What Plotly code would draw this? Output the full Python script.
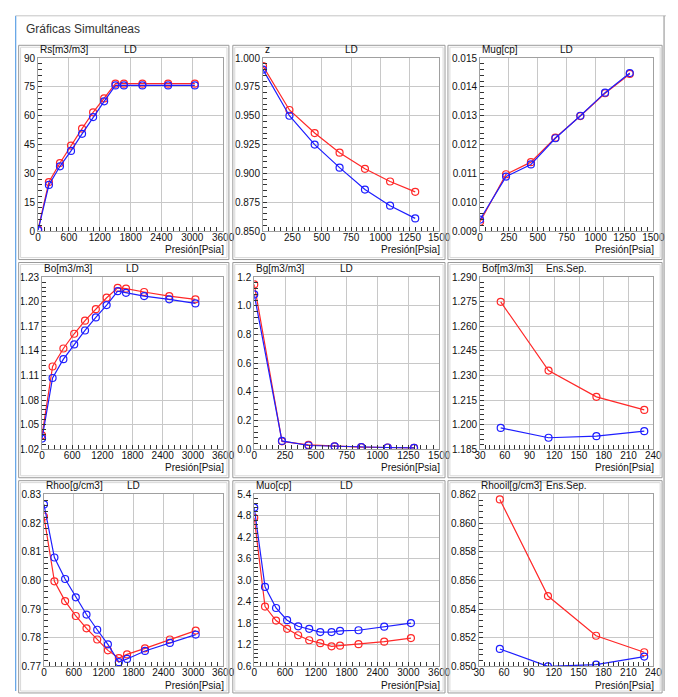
import plotly.graph_objects as go

W, H = 678, 697

# ---------------- data ----------------
p_oil = [0, 210, 425, 640, 855, 1070, 1285, 1505, 1670, 2030, 2530, 3050]
p_gas = [0, 225, 440, 652, 868, 1082, 1296]
p_sep = [55, 113, 171, 229]

rs_red = [1.0, 25.5, 35.4, 44.5, 53.3, 61.8, 69.0, 76.7, 76.7, 76.7, 76.7, 76.7]
rs_blue = [0.5, 24.0, 33.7, 41.7, 50.6, 59.3, 67.5, 75.8, 75.8, 75.8, 75.8, 75.8]

z_red = [0.993, 0.955, 0.935, 0.918, 0.904, 0.893, 0.884]
z_blue = [0.990, 0.950, 0.925, 0.905, 0.886, 0.872, 0.861]

mug_red = [0.00932, 0.01097, 0.01139, 0.01224, 0.01299, 0.01378, 0.01445]
mug_blue = [0.00940, 0.01089, 0.01131, 0.01222, 0.01300, 0.01380, 0.01448]

bo_red = [1.037, 1.121, 1.143, 1.161, 1.177, 1.191, 1.205, 1.217, 1.216, 1.212, 1.207, 1.203]
bo_blue = [1.033, 1.107, 1.130, 1.148, 1.165, 1.181, 1.196, 1.213, 1.211, 1.207, 1.203, 1.198]

bg_red = [1.15, 0.055, 0.030, 0.020, 0.015, 0.012, 0.010]
bg_blue = [1.08, 0.058, 0.026, 0.020, 0.015, 0.012, 0.010]

bof_red = [1.275, 1.233, 1.217, 1.209]
bof_blue = [1.198, 1.192, 1.193, 1.196]

rhoo_red = [0.8223, 0.7997, 0.7928, 0.7876, 0.7833, 0.7794, 0.7756, 0.7729, 0.7742, 0.7763, 0.7794, 0.7825]
rhoo_blue = [0.8265, 0.8080, 0.8005, 0.7941, 0.7881, 0.7828, 0.7777, 0.7715, 0.7726, 0.7754, 0.7782, 0.7811]

muo_red = [4.75, 2.27, 1.88, 1.65, 1.47, 1.33, 1.25, 1.16, 1.18, 1.22, 1.29, 1.39]
muo_blue = [5.03, 2.82, 2.23, 1.89, 1.72, 1.65, 1.56, 1.56, 1.59, 1.61, 1.71, 1.81]

rhooil_red = [0.86165, 0.85491, 0.85214, 0.85099]
rhooil_blue = [0.85122, 0.85000, 0.85012, 0.85069]

y_titles = ["Rs[m3/m3]", "z", "Mug[cp]", "Bo[m3/m3]", "Bg[m3/m3]", "Bof[m3/m3]",
            "Rhoo[g/cm3]", "Muo[cp]", "Rhooil[g/cm3]"]
panel_tags = ["LD", "LD", "LD", "LD", "LD", "Ens.Sep.", "LD", "LD", "Ens.Sep."]
x_title = "Presión[Psia]"
window_title = "Gráficas Simultáneas"

series = [
    (p_oil, rs_red, rs_blue), (p_gas, z_red, z_blue), (p_gas, mug_red, mug_blue),
    (p_oil, bo_red, bo_blue), (p_gas, bg_red, bg_blue), (p_sep, bof_red, bof_blue),
    (p_oil, rhoo_red, rhoo_blue), (p_oil, muo_red, muo_blue), (p_sep, rhooil_red, rhooil_blue),
]

OILX = ([0, 3600], 600)
GASX = ([0, 1500], 250)
SEPX = ([30, 240], 30)
axes_cfg = [
    (OILX, [0, 90], 15, "d"),
    (GASX, [0.85, 1.0], 0.025, ".3f"),
    (GASX, [0.009, 0.015], 0.001, ".3f"),
    (OILX, [1.02, 1.23], 0.03, ".2f"),
    (GASX, [0.0, 1.2], 0.2, ".1f"),
    (SEPX, [1.185, 1.29], 0.015, ".3f"),
    (OILX, [0.77, 0.83], 0.01, ".2f"),
    (OILX, [0.6, 5.4], 0.6, ".1f"),
    (SEPX, [0.85, 0.862], 0.002, ".3f"),
]

# plot-area pixel boxes (left, right, top, bottom)
boxes = [
    (33, 223, 53, 229), (264, 445, 53, 229), (487, 665, 53, 229),
    (37, 223, 276, 451), (255, 445, 276, 451), (487, 665, 276, 451),
    (39, 223, 497, 672), (255, 445, 497, 672), (486, 665, 497, 672),
]
frames_x = [(13, 229), (233, 451), (454, 674)]
frames_y = [(40, 258), (261, 480), (483, 699)]


def px(x):
    return x / W


def py(y):
    return 1 - y / H


RED = "rgb(255,40,40)"
BLUE = "rgb(30,30,255)"
FONT = "Liberation Sans, Arial, sans-serif"
TXT = "#111111"

fig = go.Figure()
layout = dict(
    width=W, height=H, margin=dict(l=0, r=0, t=0, b=0),
    paper_bgcolor="white", plot_bgcolor="white", showlegend=False,
    font=dict(family=FONT, size=10, color=TXT),
)
annotations = []
shapes = []

shapes.append(dict(type="line", xref="paper", yref="paper", x0=px(10), x1=px(10),
                   y0=py(10), y1=py(697), line=dict(color="#3d8ee0", width=1)))
shapes.append(dict(type="line", xref="paper", yref="paper", x0=px(10), x1=px(678),
                   y0=py(10), y1=py(10), line=dict(color="#c4c4c4", width=1)))
shapes.append(dict(type="line", xref="paper", yref="paper", x0=px(676), x1=px(676),
                   y0=py(10), y1=py(697), line=dict(color="#8a8a8a", width=1)))
annotations.append(dict(text=window_title, xref="paper", yref="paper", x=px(18), y=py(23),
                        xanchor="left", yanchor="middle", showarrow=False,
                        font=dict(family=FONT, size=12, color="#333")))

for fx0, fx1 in frames_x:
    for fy0, fy1 in frames_y:
        shapes.append(dict(type="rect", xref="paper", yref="paper", x0=px(fx0), x1=px(fx1),
                           y0=py(fy0), y1=py(fy1), line=dict(color="#9a9a9a", width=1)))
        shapes.append(dict(type="rect", xref="paper", yref="paper", x0=px(fx0 + 2), x1=px(fx1 - 2),
                           y0=py(fy0 + 2), y1=py(fy1 - 2), line=dict(color="#d8d8d8", width=1)))

for i, ((xv, red, blue), ((xr, xd), yr, yd, yf), (l, r, t, b)) in enumerate(zip(series, axes_cfg, boxes)):
    n = i + 1
    xa = "x" if n == 1 else f"x{n}"
    ya = "y" if n == 1 else f"y{n}"
    for vals, col in ((red, RED), (blue, BLUE)):
        fig.add_trace(go.Scatter(
            x=xv, y=vals, xaxis=xa, yaxis=ya, mode="lines+markers",
            line=dict(color=col, width=1.2),
            marker=dict(symbol="circle-open", size=7, color=col, line=dict(width=1.2, color=col)),
        ))
    common = dict(showgrid=True, gridcolor="#c8c8c8", gridwidth=1, zeroline=False,
                  showline=True, linecolor="#a0a0a0", linewidth=1, mirror=True,
                  ticks="inside", ticklen=4, tickcolor="#333", tickwidth=1,
                  tickfont=dict(family=FONT, size=10, color=TXT))
    layout["xaxis" if n == 1 else f"xaxis{n}"] = dict(
        common, domain=[px(l), px(r)], anchor=ya, range=xr, dtick=xd, tick0=xr[0],
        ticklabelstandoff=-3,
        minor=dict(ticks="inside", ticklen=4, tickcolor="#333", dtick=xd / 5, showgrid=False),
    )
    layout["yaxis" if n == 1 else f"yaxis{n}"] = dict(
        common, domain=[py(b), py(t)], anchor=xa, range=yr, dtick=yd, tick0=yr[0],
        tickformat=yf, ticklabelstandoff=0,
        minor=dict(ticks="inside", ticklen=4, tickcolor="#333", dtick=yd / 5, showgrid=False),
    )
    annotations.append(dict(text=y_titles[i], xref="paper", yref="paper", x=px(l), y=py(t - 1),
                            xanchor="left", yanchor="bottom", showarrow=False,
                            font=dict(family=FONT, size=10, color=TXT)))
    annotations.append(dict(text=panel_tags[i], xref="paper", yref="paper", x=px((l + r) / 2),
                            y=py(t - 1), xanchor="center", yanchor="bottom", showarrow=False,
                            font=dict(family=FONT, size=10, color=TXT)))
    annotations.append(dict(text=x_title, xref="paper", yref="paper", x=px(r + 3), y=py(b + 19),
                            xanchor="right", yanchor="middle", showarrow=False,
                            font=dict(family=FONT, size=10, color=TXT)))

layout["annotations"] = annotations
layout["shapes"] = shapes
fig.update_layout(**layout)
fig.write_html("out.html", config={"displayModeBar": False},
               post_script="document.body.style.margin='0px';document.body.style.overflow='hidden';")
